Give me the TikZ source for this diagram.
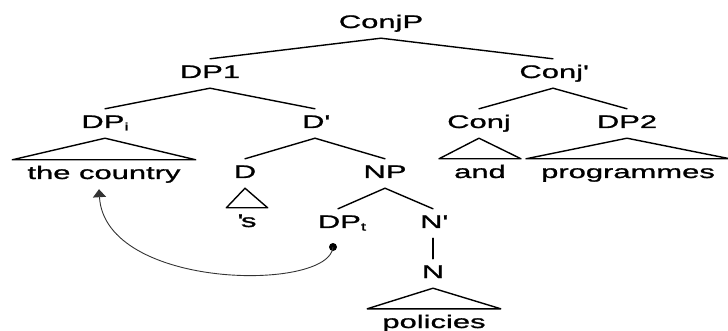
\documentclass[tikz,border=0pt]{standalone}
\usepackage{fontspec}
\setmainfont{Liberation Sans}[FakeStretch=1.7,FakeBold=1.2]
\usetikzlibrary{arrows.meta}
\newcommand{\sbs}[1]{\raisebox{-2.5pt}{\fontsize{11}{11}\selectfont #1}}
\begin{document}
\begin{tikzpicture}[x=1pt,y=-1pt,
  lbl/.style={anchor=base,font=\fontsize{18.2}{20}\selectfont,text height=13pt,text depth=4pt,inner ysep=6pt,inner xsep=0pt},
  leaf/.style={lbl,inner xsep=15pt},
  edge/.style={line width=1.4pt,line cap=round,line join=round},
  tri/.style={edge},
  mv/.style={line width=0.9pt,draw=black!80,-{Triangle[width=13pt,length=8pt]}},
  dotn/.style={circle,fill=black,inner sep=0pt,minimum size=8pt}]
\useasboundingbox (0,0) rectangle (728,331);
\node[lbl] (ConjP) at (381,28) {ConjP};
\node[lbl] (DP1) at (210,78) {DP1};
\node[lbl] (Conjbar) at (553,78) {Conj\textquotesingle};
\node[lbl] (DPi) at (105,128) {DP\sbs{i}};
\node[lbl] (Dbar) at (315,128) {D\textquotesingle};
\node[lbl] (Conj) at (479,128) {Conj};
\node[lbl] (DP2) at (627,128) {DP2};
\node[leaf] (country) at (104,179) {the country};
\node[lbl] (D) at (245,178) {D};
\node[lbl] (NP) at (385,178) {NP};
\node[leaf] (and) at (480,178) {and};
\node[leaf] (prog) at (628,178) {programmes};
\node[leaf,inner xsep=11pt] (s) at (247,227) {\textquotesingle s};
\node[lbl] (DPt) at (342,228) {DP\sbs{t}};
\node[lbl] (Nbar) at (433,228) {N\textquotesingle};
\node[lbl] (N) at (433,278) {N};
\node[leaf] (pol) at (434,328) {policies};
\node[dotn] (dot) at (333,247) {};

\draw[edge] (ConjP.south) -- (DP1.north);
\draw[edge] (ConjP.south) -- (Conjbar.north);
\draw[edge] (DP1.south) -- (DPi.north);
\draw[edge] (DP1.south) -- (Dbar.north);
\draw[edge] (Conjbar.south) -- (Conj.north);
\draw[edge] (Conjbar.south) -- (DP2.north);
\draw[edge] (Dbar.south) -- (D.north);
\draw[edge] (Dbar.south) -- (NP.north);
\draw[edge] (NP.south) -- ([xshift=-4pt]DPt.north);
\draw[edge] (NP.south) -- (Nbar.north);
\draw[edge] (Nbar.south) -- (N.north);

\draw[tri] (DPi.south) -- (country.north west) -- (country.north east) -- cycle;
\draw[tri] (Conj.south) -- (and.north west) -- (and.north east) -- cycle;
\draw[tri] (DP2.south) -- (prog.north west) -- (prog.north east) -- cycle;
\draw[tri] (D.south) -- (s.north west) -- (s.north east) -- cycle;
\draw[tri] (N.south) -- (pol.north west) -- (pol.north east) -- cycle;

\draw[mv] (dot.center) .. controls (330,292) and (105,290) .. ([xshift=-5pt]country.south);
\end{tikzpicture}
\end{document}
